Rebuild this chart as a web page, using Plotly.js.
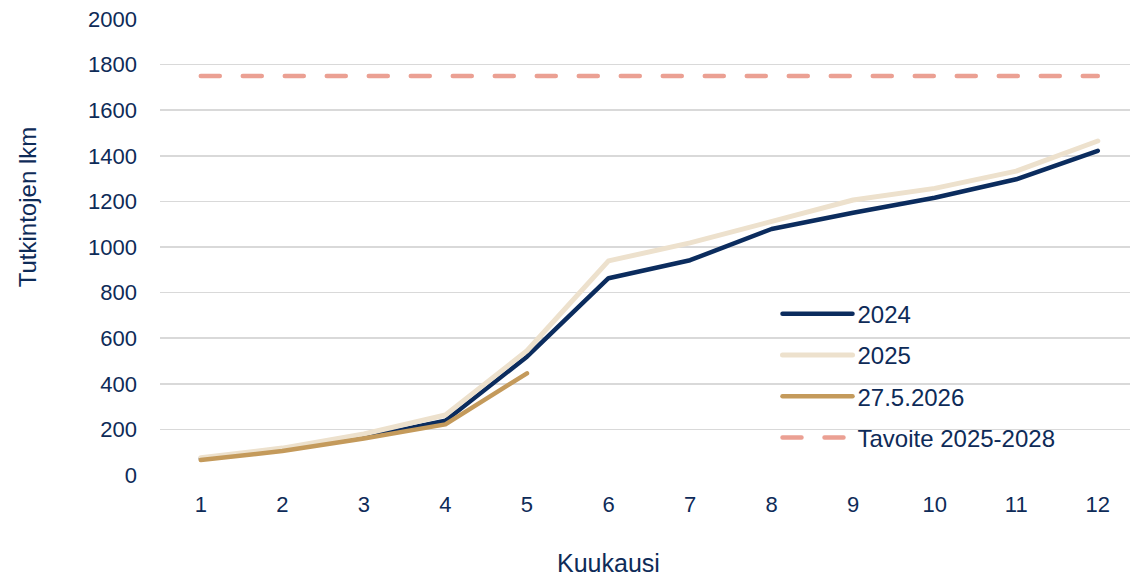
<!DOCTYPE html>
<html>
<head>
<meta charset="utf-8">
<script src="https://cdn.plot.ly/plotly-3.0.1.min.js"></script>
<style>html,body{margin:0;padding:0;overflow:hidden;background:#fff}</style>
</head>
<body>
<div id="chart" style="width:1130px;height:577px"></div>
<script>
const months = [1,2,3,4,5,6,7,8,9,10,11,12];
const v2024 = [72, 112, 165, 238, 519, 863, 942, 1079, 1150, 1216, 1297, 1422];
const v2025 = [76, 118, 180, 263, 545, 939, 1018, 1114, 1206, 1257, 1333, 1465];
const v2026 = [66, 105, 160, 222, 446];
const target = [1750,1750,1750,1750,1750,1750,1750,1750,1750,1750,1750,1750];
const names = ['2024','2025','27.5.2026','Tavoite 2025-2028'];

const txt = '#0E2B58';
const fontFam = 'Liberation Sans, Arial, sans-serif';

const traces = [
  {x: months, y: v2024, name: names[0], mode:'lines', line:{color:'#0B2C5E', width:4.5}, legendgroup:'a'},
  {x: months, y: v2025, name: names[1], mode:'lines', line:{color:'#EDE1CD', width:5}, legendgroup:'b'},
  {x: months.slice(0, v2026.length), y: v2026, name: names[2], mode:'lines', line:{color:'#C49A5B', width:4.5}, legendgroup:'c'},
  {x: months, y: target, name: names[3], mode:'lines', line:{color:'#EBA093', width:4.5, dash:'19px,23px'}, legendgroup:'d'}
];

const layout = {
  width:1130, height:577,
  margin:{l:160, r:0, t:19, b:102},
  paper_bgcolor:'#fff', plot_bgcolor:'#fff',
  font:{family:fontFam, size:22, color:txt},
  showlegend:true,
  legend:{x:0.6366, xanchor:'left', y:0.402, yanchor:'top', bgcolor:'rgba(0,0,0,0)',
          font:{family:fontFam, size:24, color:txt}, itemwidth:70, traceorder:'grouped', tracegroupgap:7},
  xaxis:{range:[0.5, 12.395], tickvals:months, ticktext:months.map(String), showgrid:false, zeroline:false,
         showline:false, ticks:'', ticklabelstandoff:14, tickfont:{size:22, color:txt}, fixedrange:true},
  yaxis:{range:[0,2000], dtick:200, showgrid:true, gridcolor:'#D9D9D9', gridwidth:1.5, zeroline:false,
         showline:false, ticks:'', ticklabelstandoff:22, tickfont:{size:22, color:txt}, fixedrange:true},
  shapes:[{type:'rect', xref:'paper', yref:'paper', x0:0.5876, x1:0.9753, y0:0.0439, y1:0.3925,
           fillcolor:'#fff', line:{width:0}, layer:'between'}],
  annotations:[
    {text:'Kuukausi', xref:'paper', yref:'paper', x:0.4626, y:-0.193, xanchor:'center', yanchor:'middle',
     showarrow:false, font:{size:25, color:txt}},
    {text:'Tutkintojen lkm', xref:'paper', yref:'paper', x:-0.1367, y:0.588, xanchor:'center', yanchor:'middle',
     textangle:-90, showarrow:false, font:{size:24, color:txt}}
  ]
};

Plotly.newPlot('chart', traces, layout, {displayModeBar:false, staticPlot:true}).then(function(){
  document.querySelectorAll('.scatterlayer path.js-line, .legend path.js-line').forEach(function(p){
    p.style.strokeLinecap = 'round';
    p.style.strokeLinejoin = 'round';
  });
});
</script>
</body>
</html>
